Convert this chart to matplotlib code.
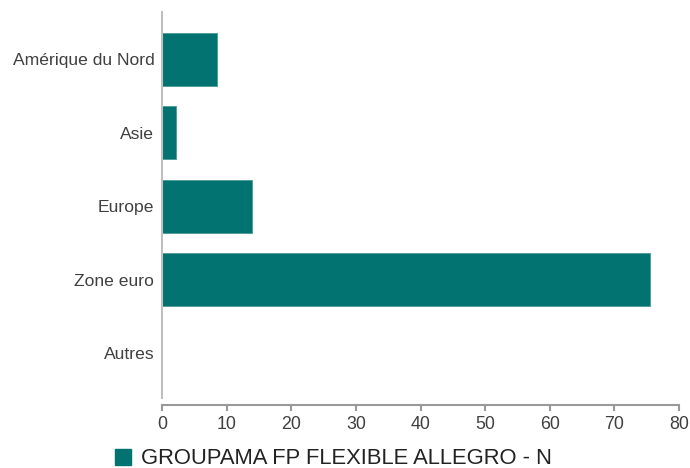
import matplotlib
matplotlib.use("Agg")
import matplotlib.pyplot as plt
from matplotlib.patches import Patch

categories = ["Amérique du Nord", "Asie", "Europe", "Zone euro", "Autres"]
values = [8.5, 2.2, 13.9, 75.5, 0.0]
series_name = "GROUPAMA FP FLEXIBLE ALLEGRO - N"
xticks = [0, 10, 20, 30, 40, 50, 60, 70, 80]

teal = "#037372"
grey = "#bfbfbf"
txt = "#404040"

plt.rcParams['font.family'] = ['Liberation Sans', 'DejaVu Sans']

fig = plt.figure(figsize=(6.9, 4.68), dpi=100)
ax = fig.add_axes([162 / 690, 1 - 398 / 468, (679 - 162) / 690, (398 - 12) / 468])

pos = list(range(len(categories)))
ax.barh(pos, values, height=0.72, color=teal, edgecolor="#4a9a98", linewidth=0.6)

ax.set_ylim(4.61, -0.64)
ax.set_xlim(0, 80)
ax.set_yticks(pos)
ax.set_yticklabels(categories)
ax.set_xticks(xticks)

for s in ["top", "right"]:
    ax.spines[s].set_visible(False)
ax.spines["left"].set_color(grey)
ax.spines["left"].set_linewidth(1.5)
ax.spines["bottom"].set_color("#999999")
ax.spines["bottom"].set_linewidth(1.5)
ax.spines["bottom"].set_position(("outward", 5))

ax.tick_params(axis="y", length=0, pad=5.5, labelsize=12.6, labelcolor=txt)
ax.tick_params(axis="x", length=4, width=1.5, color="#999999", pad=4,
               labelsize=12.8, labelcolor=txt)

handle = Patch(facecolor=teal, edgecolor=teal)
fig.legend([handle], [series_name], loc="center",
           bbox_to_anchor=(0.483, 1 - 459 / 468), frameon=False, fontsize=15.8,
           handlelength=0.75, handleheight=0.75, handletextpad=0.45,
           labelcolor="#222222", borderpad=0, borderaxespad=0)

fig.savefig("out.png", dpi=100)
